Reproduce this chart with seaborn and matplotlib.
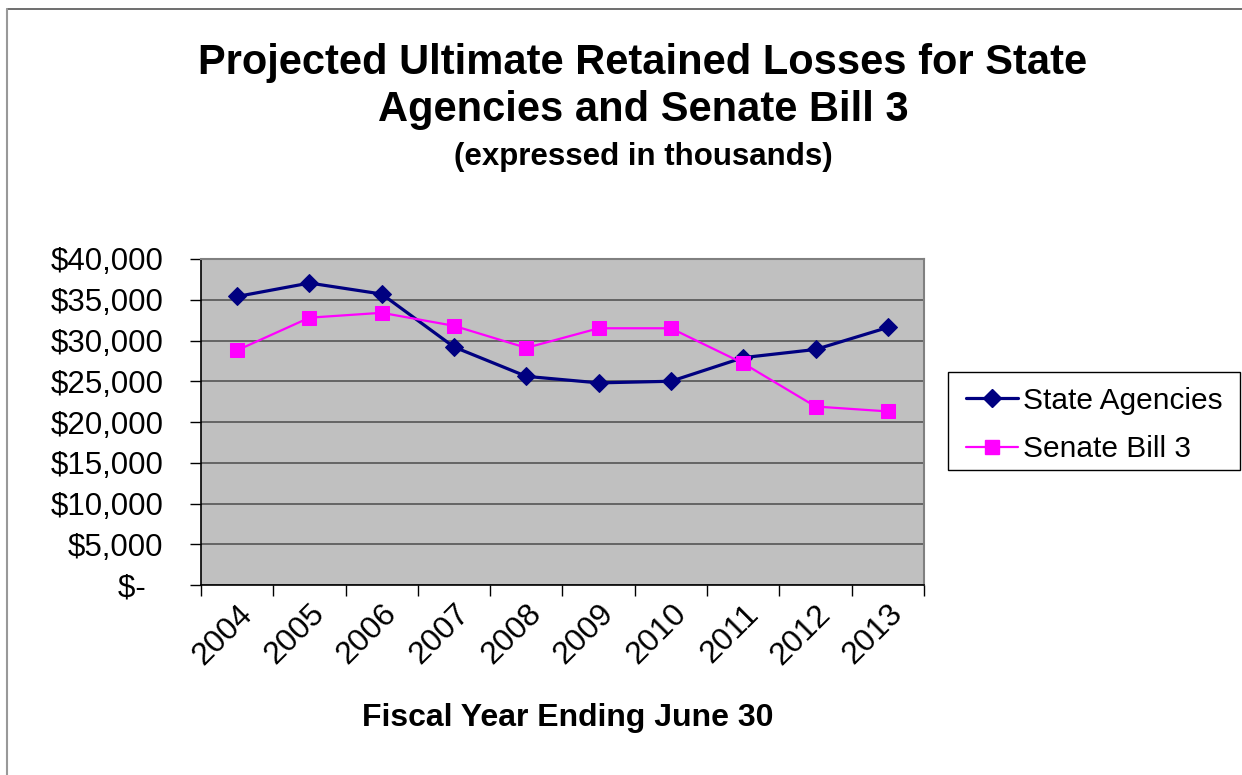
import matplotlib
matplotlib.use("Agg")
import matplotlib.pyplot as plt
import seaborn as sns
import pandas as pd
from matplotlib.ticker import FixedLocator, FuncFormatter
from matplotlib.lines import Line2D
from matplotlib.patches import Rectangle

years = [2004, 2005, 2006, 2007, 2008, 2009, 2010, 2011, 2012, 2013]
state_agencies = [35400, 37050, 35700, 29200, 25600, 24800, 25000, 27900, 28900, 31600]
senate_bill_3 = [28800, 32800, 33400, 31800, 29100, 31500, 31500, 27200, 21900, 21300]
series_names = ["State Agencies", "Senate Bill 3"]
y_ticks = [0, 5000, 10000, 15000, 20000, 25000, 30000, 35000, 40000]

sns.set_theme(style="white")
plt.rcParams["font.family"] = ["Liberation Sans", "DejaVu Sans"]
plt.rcParams["text.color"] = "black"
plt.rcParams["xtick.color"] = "black"
plt.rcParams["ytick.color"] = "black"
plt.rcParams["axes.labelcolor"] = "black"

fig = plt.figure(figsize=(12.42, 7.75), dpi=100)
W, H = 1242, 775
ax = fig.add_axes([201 / W, 1 - 585 / H, (924 - 201) / W, (585 - 259) / H])

df_sa = pd.DataFrame({"year": years, "value": state_agencies})
df_sb = pd.DataFrame({"year": years, "value": senate_bill_3})

sns.lineplot(data=df_sa, x="year", y="value", ax=ax, color="#000080", lw=2.3,
             marker="D", markersize=9.5, markeredgecolor="#000080", markerfacecolor="#000080",
             zorder=3)
sns.lineplot(data=df_sb, x="year", y="value", ax=ax, color="#FF00FF", lw=1.6,
             marker="s", markersize=10.5, markeredgecolor="#FF00FF", markerfacecolor="#FF00FF",
             zorder=4)

ax.set_facecolor("#C0C0C0")
ax.set_xlim(years[0] - 0.5, years[-1] + 0.5)
ax.set_ylim(0, 40000)

# y axis
ax.yaxis.set_major_locator(FixedLocator(y_ticks))
def yfmt(v, pos):
    if v == 0:
        return "$-  "
    return "${:,.0f}".format(v)
ax.yaxis.set_major_formatter(FuncFormatter(yfmt))
ax.tick_params(axis="y", which="major", direction="out", length=8, width=1,
               color="#000000", labelsize=22.5, pad=19, left=True, labelcolor="black")
ax.grid(axis="y", color="#555555", lw=1.2)
ax.set_axisbelow(True)

# x axis: labels at category centers, ticks at boundaries
ax.xaxis.set_major_locator(FixedLocator(years))
ax.xaxis.set_minor_locator(FixedLocator([y - 0.5 for y in years] + [years[-1] + 0.5]))
ax.set_xticklabels([str(y) for y in years], rotation=45, ha="right", va="top",
                   rotation_mode="anchor")
ax.tick_params(axis="x", which="major", length=0, labelsize=23, pad=10, labelcolor="black")
ax.tick_params(axis="x", which="minor", direction="out", length=8, width=1,
               color="#000000", bottom=True)
ax.set_xlabel("")
ax.set_ylabel("")

for side in ["top", "right"]:
    ax.spines[side].set_color("#808080")
    ax.spines[side].set_linewidth(1.5)
for side in ["left", "bottom"]:
    ax.spines[side].set_color("#000000")
    ax.spines[side].set_linewidth(1.2)

# legend
handles = [
    Line2D([], [], color="#000080", lw=2.3, marker="D", markersize=9.5),
    Line2D([], [], color="#FF00FF", lw=1.6, marker="s", markersize=10.5),
]
leg = fig.legend(handles, series_names, loc="upper left",
                 bbox_to_anchor=(948 / W, 1 - 369 / H), fontsize=21.5,
                 frameon=False, handlelength=1.75, handletextpad=0.15,
                 borderpad=0.6, labelspacing=0.68, borderaxespad=0)
fig.add_artist(Rectangle((948 / W, 1 - 470 / H), (1240 - 948) / W, (470 - 372) / H,
                         transform=fig.transFigure, fill=False, edgecolor="black",
                         lw=1.0, zorder=1))

# titles
fig.text(643 / W, 1 - 63 / H, "Projected Ultimate Retained Losses for State",
         ha="center", va="center", fontsize=30, fontweight="bold", color="black")
fig.text(643 / W, 1 - 110 / H, "Agencies and Senate Bill 3",
         ha="center", va="center", fontsize=30, fontweight="bold", color="black")
fig.text(643 / W, 1 - 157 / H, "(expressed in thousands)",
         ha="center", va="center", fontsize=22.5, fontweight="bold", color="black")
fig.text(568 / W, 1 - 718 / H, "Fiscal Year Ending June 30",
         ha="center", va="center", fontsize=23, fontweight="bold", color="black")

# chart area border (top and left visible)
fig.add_artist(Line2D([7 / W, 1.0], [1 - 9 / H, 1 - 9 / H], color="#555555", lw=1.2,
                      transform=fig.transFigure))
fig.add_artist(Line2D([7 / W, 7 / W], [0, 1 - 9 / H], color="#999999", lw=1.5,
                      transform=fig.transFigure))

fig.savefig("out.png", dpi=100, facecolor="white")
